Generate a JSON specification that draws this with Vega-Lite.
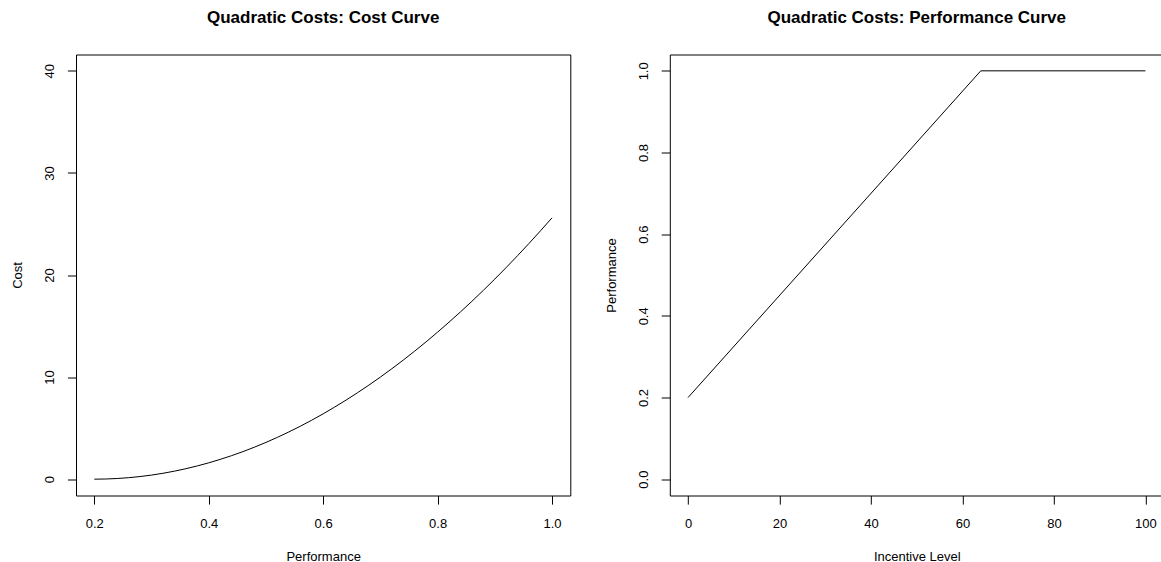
{
  "$schema": "https://vega.github.io/schema/vega-lite/v6.json",
  "autosize": {"type": "pad"},
  "padding": {"left": 10, "top": 7.5, "right": 0, "bottom": 0},
  "background": "white",
  "datasets": {
    "cost": [
      {"performance": 0.20, "cost": 0},
      {"performance": 0.22, "cost": 0.016},
      {"performance": 0.24, "cost": 0.064},
      {"performance": 0.26, "cost": 0.144},
      {"performance": 0.28, "cost": 0.256},
      {"performance": 0.30, "cost": 0.4},
      {"performance": 0.32, "cost": 0.576},
      {"performance": 0.34, "cost": 0.784},
      {"performance": 0.36, "cost": 1.024},
      {"performance": 0.38, "cost": 1.296},
      {"performance": 0.40, "cost": 1.6},
      {"performance": 0.42, "cost": 1.936},
      {"performance": 0.44, "cost": 2.304},
      {"performance": 0.46, "cost": 2.704},
      {"performance": 0.48, "cost": 3.136},
      {"performance": 0.50, "cost": 3.6},
      {"performance": 0.52, "cost": 4.096},
      {"performance": 0.54, "cost": 4.624},
      {"performance": 0.56, "cost": 5.184},
      {"performance": 0.58, "cost": 5.776},
      {"performance": 0.60, "cost": 6.4},
      {"performance": 0.62, "cost": 7.056},
      {"performance": 0.64, "cost": 7.744},
      {"performance": 0.66, "cost": 8.464},
      {"performance": 0.68, "cost": 9.216},
      {"performance": 0.70, "cost": 10.0},
      {"performance": 0.72, "cost": 10.816},
      {"performance": 0.74, "cost": 11.664},
      {"performance": 0.76, "cost": 12.544},
      {"performance": 0.78, "cost": 13.456},
      {"performance": 0.80, "cost": 14.4},
      {"performance": 0.82, "cost": 15.376},
      {"performance": 0.84, "cost": 16.384},
      {"performance": 0.86, "cost": 17.424},
      {"performance": 0.88, "cost": 18.496},
      {"performance": 0.90, "cost": 19.6},
      {"performance": 0.92, "cost": 20.736},
      {"performance": 0.94, "cost": 21.904},
      {"performance": 0.96, "cost": 23.104},
      {"performance": 0.98, "cost": 24.336},
      {"performance": 1.00, "cost": 25.6}
    ],
    "perf": [
      {"incentive": 0, "performance": 0.2},
      {"incentive": 64, "performance": 1.0},
      {"incentive": 100, "performance": 1.0}
    ]
  },
  "hconcat": [
    {
      "width": 494.3,
      "height": 441,
      "title": {"text": "Quadratic Costs: Cost Curve"},
      "data": {"name": "cost"},
      "mark": {"type": "line", "color": "black", "strokeWidth": 1},
      "encoding": {
        "x": {
          "field": "performance", "type": "quantitative",
          "scale": {"domain": [0.168, 1.032], "nice": false, "zero": false},
          "axis": {"title": "Performance", "values": [0.2, 0.4, 0.6, 0.8, 1.0], "format": ".1f", "titleX": 247.15, "titleY": 64.5}
        },
        "y": {
          "field": "cost", "type": "quantitative",
          "scale": {"domain": [-1.6, 41.6], "nice": false, "zero": false},
          "axis": {"title": "Cost", "values": [0, 10, 20, 30, 40], "format": "d", "titleX": -54.8, "titleY": 220.5}
        }
      }
    },
    {
      "width": 493.9,
      "height": 441,
      "title": {"text": "Quadratic Costs: Performance Curve"},
      "data": {"name": "perf"},
      "mark": {"type": "line", "color": "black", "strokeWidth": 1},
      "encoding": {
        "x": {
          "field": "incentive", "type": "quantitative",
          "scale": {"domain": [-4, 104], "nice": false, "zero": false},
          "axis": {"title": "Incentive Level", "values": [0, 20, 40, 60, 80, 100], "format": "d", "titleX": 246.95, "titleY": 64.5}
        },
        "y": {
          "field": "performance", "type": "quantitative",
          "scale": {"domain": [-0.04, 1.04], "nice": false, "zero": false},
          "axis": {"title": "Performance", "values": [0, 0.2, 0.4, 0.6, 0.8, 1.0], "format": ".1f", "titleX": -54.8, "titleY": 220.5}
        }
      }
    }
  ],
  "spacing": 98.8,
  "bounds": "flush",
  "config": {
    "font": "Liberation Sans",
    "view": {"stroke": "black", "strokeWidth": 1},
    "title": {"fontSize": 17, "fontWeight": "bold", "font": "Liberation Sans", "color": "black", "anchor": "middle", "baseline": "alphabetic", "offset": 28},
    "axis": {
      "domain": false,
      "grid": false,
      "ticks": true,
      "tickSize": 8.6,
      "tickColor": "black",
      "tickWidth": 1,
      "labelFont": "Liberation Sans",
      "labelFontSize": 13,
      "labelColor": "black",
      "titleFont": "Liberation Sans",
      "titleFontSize": 13,
      "titleFontWeight": "normal",
      "titleColor": "black",
      "titleBaseline": "alphabetic",
      "labelFlush": false,
      "labelOverlap": false
    },
    "axisX": {"labelBaseline": "alphabetic", "labelPadding": 22.9, "labelAlign": "center"},
    "axisY": {"labelAngle": 270, "labelAlign": "center", "labelBaseline": "alphabetic", "labelPadding": 13.6, "titleAngle": 270}
  }
}
